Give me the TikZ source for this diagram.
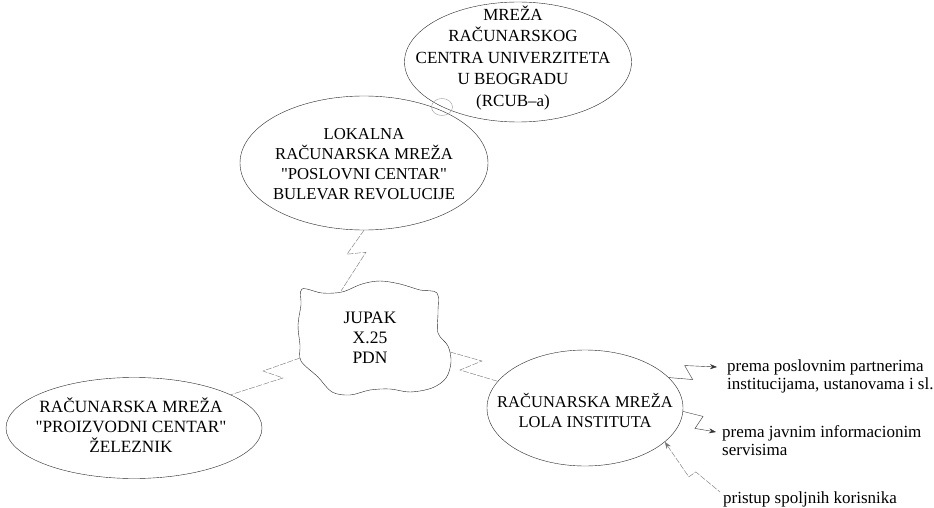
\documentclass[tikz,border=0pt]{standalone}
\usepackage{fontspec}
\setmainfont{Liberation Serif}[Ligatures=TeXOff]
\usepackage{tikz}
\usetikzlibrary{arrows.meta,shapes.geometric}

\begin{document}
\begin{tikzpicture}[x=1pt,y=-1pt,>={Stealth[length=7pt,width=5pt]},thin,
                    font=\fontsize{16.7}{20}\selectfont]

  %\tikzstyle{net}=[ellipse,draw,fill=gray!10]
  \tikzstyle{net}=[ellipse,draw=black!85,inner sep=0pt]
  \tikzstyle{every label}=[align=center,inner sep=0pt]
  \tikzstyle{link}=[draw=black!55,dash pattern=on 6pt off 1.5pt]
  \tikzstyle{outlink}=[draw=black!80,->]
  \tikzstyle{note}=[anchor=north west,align=left,inner sep=0pt,
                    font=\fontsize{17}{18}\selectfont]

  \useasboundingbox (0,0) rectangle (934,508);

  \node[net, minimum width=227, minimum height=120,
        label={[xshift=-5,yshift=4,font=\fontsize{17}{21.5}\selectfont]center:MREŽA\\RAČUNARSKOG\\CENTRA UNIVERZITETA\\U BEOGRADU\\(RCUB–a)}]
    (rcub) at (518,62) {};
  \node[net, minimum width=248, minimum height=134,
        label={[yshift=-1]center:LOKALNA\\RAČUNARSKA MREŽA\\"POSLOVNI CENTAR"\\BULEVAR REVOLUCIJE}]
    (lokalna) at (364,163) {};
  \node[net, minimum width=256, minimum height=101,
        label={[xshift=-3,yshift=3,font=\fontsize{17.2}{20}\selectfont]center:RAČUNARSKA MREŽA\\"PROIZVODNI CENTAR"\\ŽELEZNIK}]
    (proizvodni) at (134,428) {};
  \node[net, minimum width=196, minimum height=116,
        label={[yshift=-2,font=\fontsize{16.5}{20}\selectfont]center:RAČUNARSKA MREŽA\\LOLA INSTITUTA}]
    (lola) at (585,408) {};
  \node[ellipse, draw=black!40, minimum width=21, minimum height=17, inner sep=0pt]
    (spoj) at (442,107) {};

  % JUPAK oblak
  \draw[black!85] plot[smooth cycle, tension=0.55] coordinates {
      (302,289) (322,293) (342,292) (362,284) (380,281) (400,284)
      (420,290) (437,293) (438,312) (438,333) (448,346) (451,362)
      (446,378) (432,388) (410,392) (390,389) (370,390) (350,395)
      (332,392) (318,377) (301,361) (300,345) (298,325) (301,305)};
  \node[align=center,font=\fontsize{17.5}{20}\selectfont]
    (jupak) at (370,338) {JUPAK\\X.25\\PDN};
  \coordinate (jupak top) at (341,291);
  \coordinate (jupak left) at (300,358);
  \coordinate (jupak right) at (450,352);

  \node[note] (partneri) at (727,360)
    {prema poslovnim partnerima\\institucijama, ustanovama i sl.};
  \node[note] (javni) at (722,425)
    {prema javnim informacionim\\servisima};
  \node[note] (pristup) at (723,491)
    {pristup spoljnih korisnika};

  % veze
  \draw[link] (lokalna.south) -- ++(-17,24) -- ++(19,-2) -- (jupak top);
  \draw[link] (jupak left) -- ++(-37,13) -- ++(20,7) -- (proizvodni.19);
  \draw[link] (jupak right) -- ++(32,9) -- ++(-22,9) -- (lola.163);

  \draw[outlink] (lola.20) -- ++(24,2) -- ++(-8,-14)
        -- ([shift={(-10pt,-7pt)}]partneri.north west);
  \draw[outlink] (lola.-2) -- ++(20,5) -- ++(-8,12)
        -- ([shift={(-6pt,-7pt)}]javni.north west);
  \draw[link,<-] (lola.-23) -- ++(24,35) -- ++(7,-5)
        -- ([shift={(-3pt,-1pt)}]pristup.north west);

\end{tikzpicture}
\end{document}
